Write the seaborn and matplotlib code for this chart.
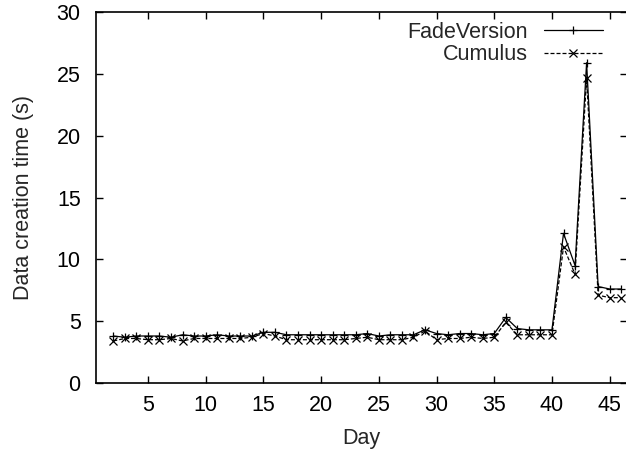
import matplotlib
matplotlib.use("Agg")
import matplotlib.pyplot as plt
import pandas as pd
import seaborn as sns

# data (days 2..46)
DAYS = list(range(2, 47))
FADE_VERSION = [3.8, 3.7, 3.8, 3.8, 3.8, 3.7, 3.9, 3.8, 3.8, 3.9,
                3.8, 3.8, 3.8, 4.1, 4.1, 3.9, 3.9, 3.9, 3.9, 3.9,
                3.9, 3.9, 4.0, 3.8, 3.9, 3.9, 3.9, 4.3, 4.0, 3.9,
                4.0, 4.0, 3.9, 4.0, 5.3, 4.4, 4.3, 4.3, 4.3, 12.1,
                9.5, 25.9, 7.8, 7.6, 7.6]
CUMULUS = [3.4, 3.6, 3.6, 3.5, 3.5, 3.6, 3.4, 3.6, 3.6, 3.6,
           3.6, 3.6, 3.7, 4.0, 3.8, 3.5, 3.5, 3.5, 3.5, 3.5,
           3.5, 3.6, 3.7, 3.5, 3.5, 3.5, 3.7, 4.2, 3.5, 3.6,
           3.6, 3.7, 3.6, 3.7, 4.9, 3.9, 3.9, 3.9, 3.9, 11.0,
           8.8, 24.7, 7.1, 6.9, 6.9]

SERIES = ["FadeVersion", "Cumulus"]
MARKERS = {"FadeVersion": "+", "Cumulus": "x"}
DASHES = {"FadeVersion": "", "Cumulus": (3.2, 1.6)}
FS = 15.5

df = pd.DataFrame({
    "Day": DAYS * 2,
    "Time": FADE_VERSION + CUMULUS,
    "Series": ["FadeVersion"] * len(DAYS) + ["Cumulus"] * len(DAYS),
})

sns.set_style("ticks")
plt.rcParams["font.family"] = ["Liberation Sans", "DejaVu Sans"]

fig = plt.figure(figsize=(6.26, 4.54), dpi=100)
ax = fig.add_axes([96 / 626, 71 / 454, 531 / 626, 371 / 454])

sns.lineplot(
    data=df, x="Day", y="Time", hue="Series", style="Series",
    hue_order=SERIES, style_order=SERIES,
    palette=["black", "black"], markers=MARKERS, dashes=DASHES,
    markersize=5.5, markeredgewidth=0.9, markeredgecolor="black",
    linewidth=0.9, ax=ax, legend=True,
)

ax.set_xlim(0.5, 46.5)
ax.set_ylim(0, 30)
ax.set_xticks(range(5, 46, 5))
ax.set_yticks(range(0, 31, 5))
ax.tick_params(direction="in", length=5, width=1, labelsize=FS,
               top=True, right=True, colors="black")
ax.tick_params(axis="x", pad=8.5)
ax.tick_params(axis="y", pad=11)
for s in ax.spines.values():
    s.set_linewidth(1.2)
    s.set_visible(True)
    s.set_color("black")
ax.set_xlabel("Day", fontsize=FS, labelpad=9)
ax.set_ylabel("Data creation time (s)", fontsize=FS, labelpad=16)

leg = ax.legend(loc="upper right", bbox_to_anchor=(603 / 626, 1 - 22 / 454),
                bbox_transform=fig.transFigure, borderpad=0, borderaxespad=0,
                frameon=False, markerfirst=False, fontsize=FS,
                handlelength=2.75, handletextpad=0.75, labelspacing=0.05)
for t in leg.get_texts():
    t.set_ha("right")

fig.savefig("out.png", dpi=100)
